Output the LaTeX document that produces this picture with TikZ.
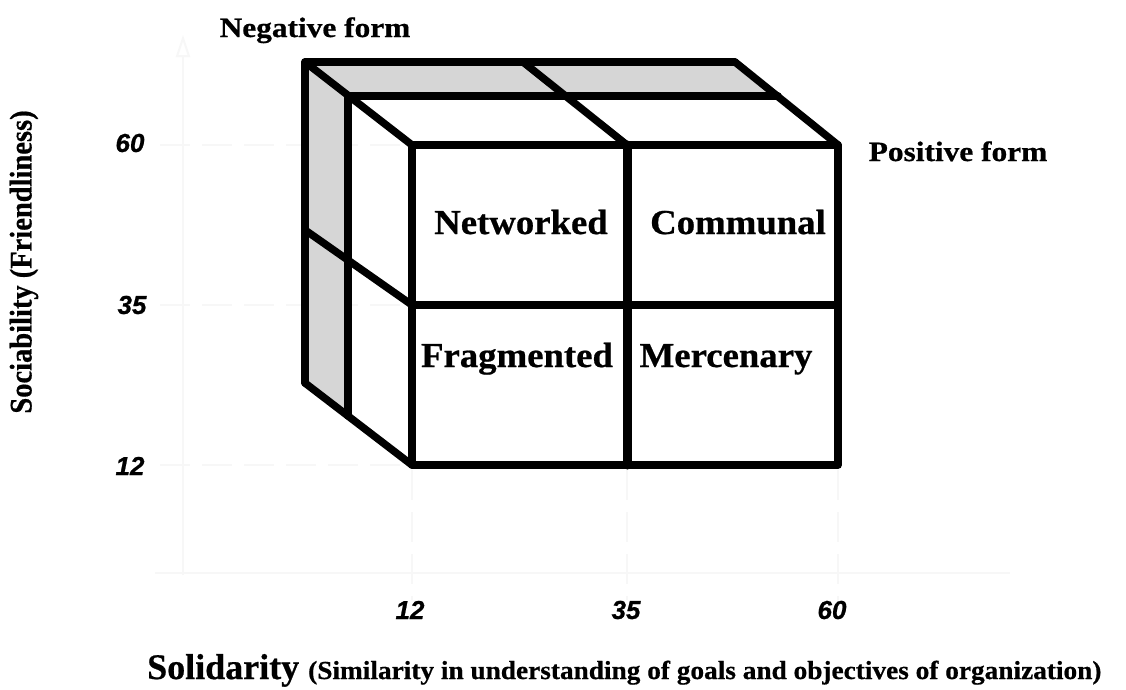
\documentclass[tikz,border=0pt]{standalone}
\usepackage{fontspec}
\setmainfont{Liberation Serif}[BoldFeatures={FakeBold=0.6}]
\newfontfamily\numfont{Liberation Sans}[BoldItalicFeatures={FakeBold=0.8}]
\usetikzlibrary{arrows.meta}
\begin{document}
\begin{tikzpicture}[x=1pt,y=-1pt,
  edge/.style={line width=7.5pt, line join=round, line cap=round},
  cell/.style={font=\fontsize{35}{40}\selectfont\bfseries, anchor=base, inner sep=0pt},
  tick/.style={font=\fontsize{26}{30}\selectfont\numfont\bfseries\itshape, inner sep=0pt},
  faint/.style={black!3, line width=2pt},
  faintdash/.style={black!3, line width=2pt, dash pattern=on 30pt off 12pt},
  formlabel/.style={font=\fontsize{28}{32}\selectfont\bfseries, inner sep=0pt}]
\useasboundingbox (0,0) rectangle (1126,689);
\fill[white] (0,0) rectangle (1126,689);
% faint axes and guides
\coordinate (O) at (183,575);
\coordinate (Ytop) at (183,35);
\coordinate (Xend) at (1010,573);
\draw[faint, -{Triangle[width=14pt,length=22pt,open]}] (O) -- (Ytop);
\draw[faint] (155,573) -- (Xend);
\foreach \yy in {145,305,465} \draw[faintdash] (160,\yy) -- (405,\yy);
\foreach \xx in {412,627,838} \draw[faintdash] (\xx,470) -- (\xx,600);
% cube coordinates
\coordinate (F1) at (412,145);
\coordinate (F2) at (838,145);
\coordinate (F3) at (838,465);
\coordinate (F4) at (412,465);
\coordinate (FmT) at (627,145);
\coordinate (FmB) at (627,465);
\coordinate (FmL) at (412,305);
\coordinate (FmR) at (838,305);
\coordinate (B1) at (305,62);
\coordinate (B2) at (735,62);
\coordinate (Bm) at (523,62);
\coordinate (BL) at (305,383);
\coordinate (BLm) at (305,230);
\coordinate (M1) at (348,96);
\coordinate (M2) at (778,96);
\coordinate (ML) at (348,416);
% grey faces
\fill[black!16] (B1) -- (B2) -- (M2) -- (M1) -- (ML) -- (BL) -- cycle;
% edges
\draw[edge] (B2) -- (B1) -- (BL);
\draw[edge] (M2) -- (M1) -- (ML);
\draw[edge] (B1) -- (F1);
\draw[edge] (B2) -- (F2);
\draw[edge] (BL) -- (F4);
\draw[edge] (Bm) -- (FmT);
\draw[edge] (BLm) -- (FmL);
\draw[edge] (F1) rectangle (F3);
\draw[edge, line width=9pt] (FmT) -- (FmB);
\draw[edge] (FmL) -- (FmR);
% cell labels
\node[cell] (net) at (521,234) {\scalebox{1.05}[1]{Networked}};
\node[cell] (com) at (738,234) {\scalebox{1.05}[1]{Communal}};
\node[cell] (fra) at (517,367) {\scalebox{1.05}[1]{Fragmented}};
\node[cell] (mer) at (726,367) {\scalebox{1.05}[1]{Mercenary}};
% form labels
\node[formlabel, anchor=base] (neg) at (315,37) {\scalebox{1.12}[1]{Negative form}};
\node[formlabel, anchor=base] (pos) at (958,161) {\scalebox{1.12}[1]{Positive form}};
% ticks
\node[tick] (y60) at (130,143) {60};
\node[tick] (y35) at (132,305) {35};
\node[tick] (y12) at (130,466) {12};
\node[tick] (x12) at (410,610) {12};
\node[tick] (x35) at (626,610) {35};
\node[tick] (x60) at (832,610) {60};
% axis titles
\node[inner sep=0pt, rotate=90, font=\fontsize{28.5}{32}\selectfont\bfseries] (ylab) at (24,262) {\scalebox{1}[1.1]{Sociability (Friendliness)}};
\node[inner sep=0pt, anchor=base west, font=\fontsize{36}{40}\selectfont\bfseries] (sol) at (147,679) {Solidarity};
\node[inner sep=0pt, anchor=base west, font=\fontsize{26}{30}\selectfont\bfseries] (solsub) at (308,679) {\scalebox{1.05}[1]{(Similarity in understanding of goals and objectives of organization)}};
\end{tikzpicture}
\end{document}
